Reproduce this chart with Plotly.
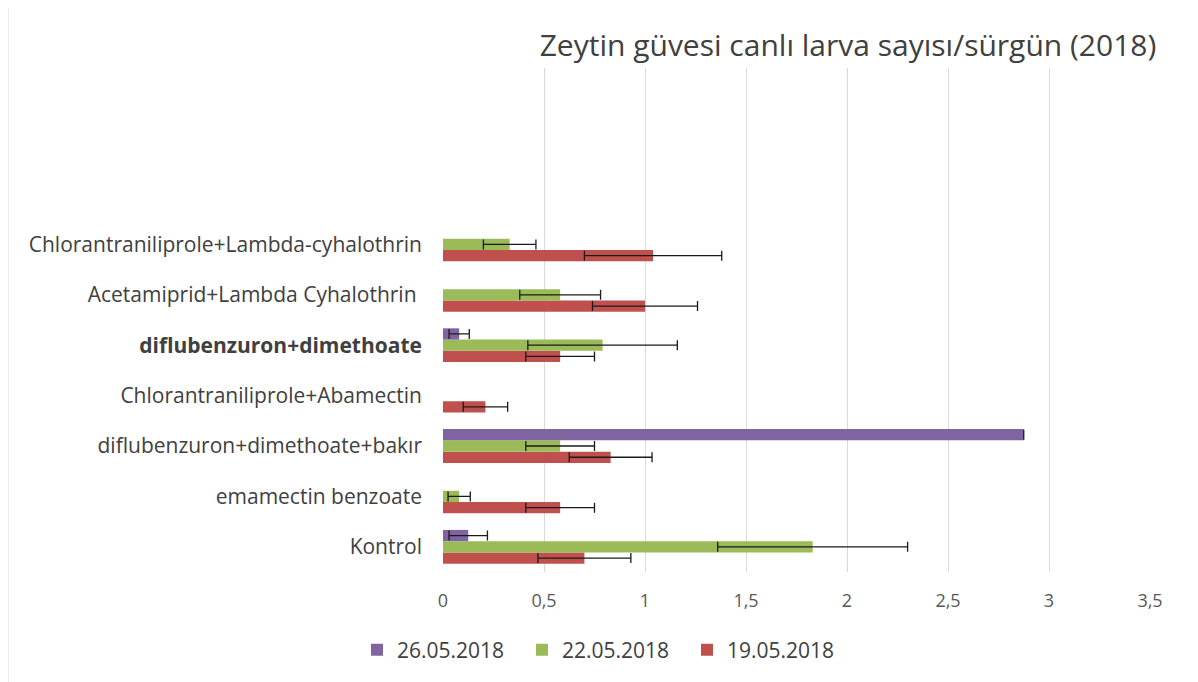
import plotly.graph_objects as go

# categories, bottom to top
treatments = [
    "Kontrol",
    "emamectin benzoate",
    "diflubenzuron+dimethoate+bakır",
    "Chlorantraniliprole+Abamectin",
    "<b>diflubenzuron+dimethoate</b>",
    "Acetamiprid+Lambda Cyhalothrin ",
    "Chlorantraniliprole+Lambda-cyhalothrin",
]

# larva / shoot values and error (+/-)
d19 = [0.70, 0.58, 0.83, 0.21, 0.58, 1.00, 1.04]
d19_err = [0.23, 0.17, 0.205, 0.11, 0.17, 0.26, 0.34]
d22 = [1.83, 0.08, 0.58, None, 0.79, 0.58, 0.33]
d22_err = [0.47, 0.055, 0.17, 0, 0.37, 0.20, 0.13]
d26 = [0.125, None, 2.875, None, 0.08, None, None]
d26_err = [0.095, 0, 0, 0, 0.05, 0, 0]

series = [
    ("19.05.2018", d19, d19_err, "#C0504D"),
    ("22.05.2018", d22, d22_err, "#9BBB59"),
    ("26.05.2018", d26, d26_err, "#8064A2"),
]

fig = go.Figure()
for name, vals, errs, col in series:
    fig.add_trace(go.Bar(
        y=treatments, x=vals, name=name, orientation="h",
        marker=dict(color=col, line=dict(width=0)),
        error_x=dict(type="data", array=errs, color="#1a1a1a",
                     thickness=1.3, width=5),
    ))

# page body has an 8px margin, so figure coords are screen - 8
W, H = 1190, 674
PW, PH = 707, 504  # plot area size in px


def px(sx):
    return (sx - 443) / PW


def py(sy):
    return (572 - sy) / PH


fig.update_layout(
    width=W, height=H,
    barmode="group", bargap=0.33, bargroupgap=0,
    plot_bgcolor="white", paper_bgcolor="white",
    font=dict(family="Open Sans", color="#404040"),
    margin=dict(l=435, r=48, t=60, b=110),
    title=dict(text="Zeytin güvesi canlı larva sayısı/sürgün (2018)",
               x=840 / W, xanchor="center", y=1 - 37 / H, yanchor="middle",
               font=dict(size=30, color="#404040")),
    xaxis=dict(range=[0, 3.5], dtick=0.5, showgrid=True, gridcolor="#d9d9d9",
               gridwidth=1, zeroline=False, showline=False, automargin=False,
               tickfont=dict(size=18, color="#595959"), ticklabelstandoff=16),
    yaxis=dict(range=[-0.5, 9.5], showgrid=False, showline=False, automargin=False,
               tickfont=dict(size=21, color="#404040"), ticklabelstandoff=20),
    separators=",.",
    legend=dict(orientation="h", xref="container", x=349 / W, xanchor="left",
                yref="container", y=1 - 642 / H, yanchor="middle",
                traceorder="reversed",
                entrywidth=120, entrywidthmode="pixels",
                font=dict(size=21, color="#404040")),
    shapes=[
        dict(type="line", xref="paper", yref="paper",
             x0=px(7), x1=px(1193), y0=py(5), y1=py(5),
             line=dict(color="#d9d9d9", width=2)),
        dict(type="line", xref="paper", yref="paper",
             x0=px(7), x1=px(7), y0=py(5), y1=py(682),
             line=dict(color="#d9d9d9", width=3)),
        dict(type="line", xref="paper", yref="paper",
             x0=px(1193), x1=px(1193), y0=py(5), y1=py(682),
             line=dict(color="#ece8a0", width=2)),
    ],
)

fig.write_html("out.html")
